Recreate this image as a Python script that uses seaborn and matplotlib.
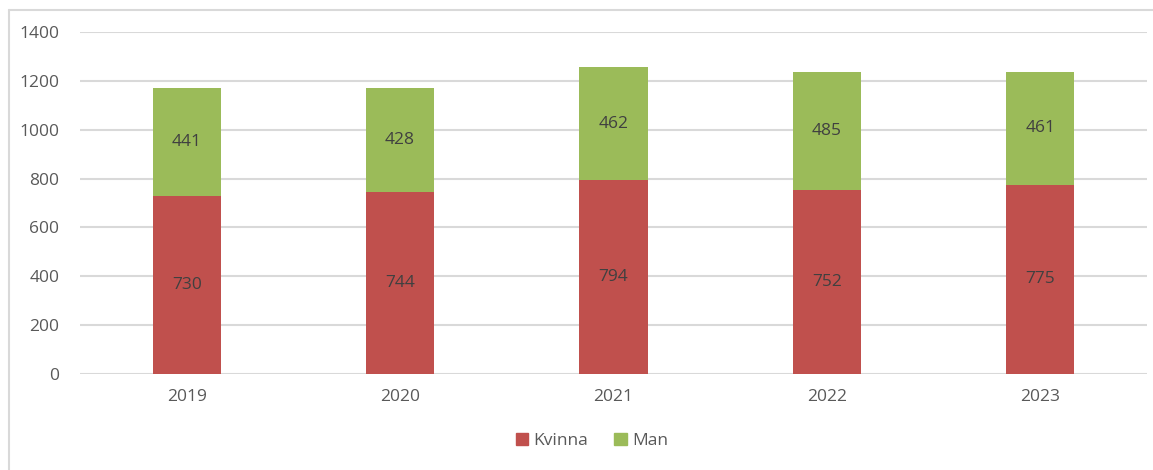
import matplotlib
matplotlib.use("Agg")
import matplotlib.pyplot as plt
import seaborn as sns
from matplotlib.patches import Patch
from matplotlib.lines import Line2D

years = ["2019", "2020", "2021", "2022", "2023"]
kvinna = [730, 744, 794, 752, 775]
man = [441, 428, 462, 485, 461]

red = "#C0504D"
green = "#9BBB59"
txt = "#595959"

sns.set_theme(style="white")
plt.rcParams["font.family"] = ["Open Sans", "DejaVu Sans"]

fig = plt.figure(figsize=(11.53, 4.70), dpi=100)
ax = fig.add_axes([80 / 1153, 1 - 374 / 470, (1147 - 80) / 1153, (374 - 32) / 470])

sns.barplot(x=years, y=kvinna, color=red, width=0.32, saturation=1, linewidth=0, ax=ax, zorder=3)
sns.barplot(x=years, y=man, bottom=kvinna, color=green, width=0.32, saturation=1, linewidth=0, ax=ax, zorder=3)

for c in ax.containers:
    ax.bar_label(c, label_type="center", color="#404040", fontsize=12.5)

ax.set_ylim(0, 1400)
ax.set_yticks(range(0, 1401, 200))
ax.set_xlim(-0.5, 4.5)
ax.yaxis.grid(True, color="#D9D9D9", linewidth=1.5, zorder=0)
for s in ax.spines.values():
    s.set_visible(False)
ax.tick_params(axis="both", length=0, labelsize=12.5, labelcolor=txt)
ax.tick_params(axis="y", pad=15)
ax.tick_params(axis="x", pad=11)

# frame around the chart
fig.add_artist(Line2D([9 / 1153, 9 / 1153], [0, 1 - 10 / 470], transform=fig.transFigure, color="#D9D9D9", lw=1.5))
fig.add_artist(Line2D([9 / 1153, 1], [1 - 10 / 470, 1 - 10 / 470], transform=fig.transFigure, color="#D9D9D9", lw=1.5))

handles = [Patch(color=red, label="Kvinna"), Patch(color=green, label="Man")]
fig.legend(handles=handles, loc="center", bbox_to_anchor=(592 / 1153, 1 - 441 / 470), ncol=2, frameon=False,
           fontsize=12.5, labelcolor=txt, handlelength=0.7, handleheight=0.7, handletextpad=0.3, columnspacing=1.5)

fig.savefig("out.png", dpi=100)
